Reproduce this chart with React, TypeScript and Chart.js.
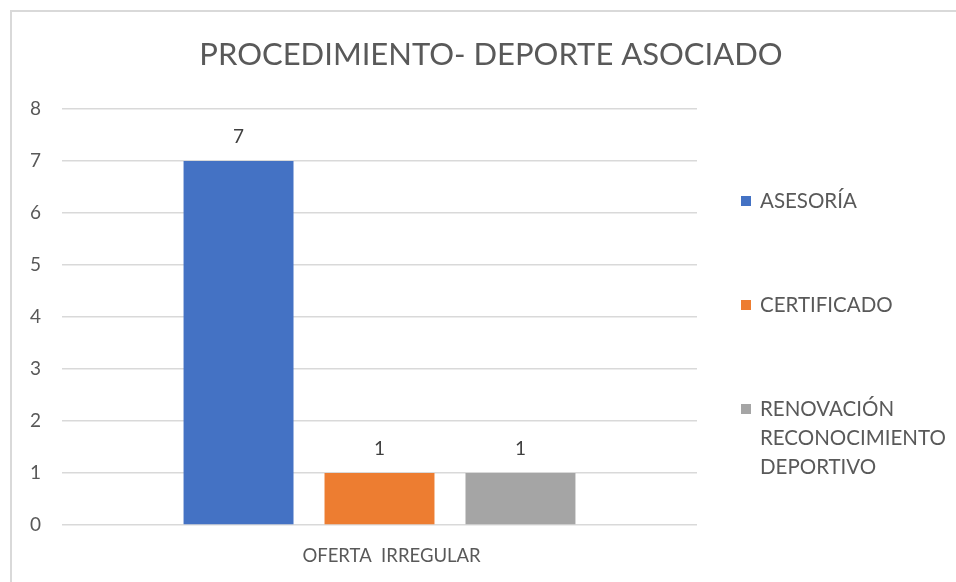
import React, { useEffect, useRef } from "react";
import { Chart, registerables } from "chart.js";

Chart.register(...registerables);

const chartTitle = "PROCEDIMIENTO- DEPORTE ASOCIADO";
const categories = ["OFERTA  IRREGULAR"];
const seriesNames = ["ASESORÍA", "CERTIFICADO", "RENOVACIÓN RECONOCIMIENTO DEPORTIVO"];
const legendLines = [["ASESORÍA"], ["CERTIFICADO"], ["RENOVACIÓN", "RECONOCIMIENTO", "DEPORTIVO"]];
const asesoria = [7];
const certificado = [1];
const renovacion = [1];
const seriesColors = ["#4472C4", "#ED7D31", "#A5A5A5"];
const yTicks = [0, 1, 2, 3, 4, 5, 6, 7, 8];

const FONT = "Lato, 'Open Sans', sans-serif";
const TEXT = "#595959";

const overlayPlugin = {
  id: "overlay",
  afterDatasetsDraw(chart: any) {
    const ctx = chart.ctx;
    ctx.save();
    // data labels
    ctx.fillStyle = "#404040";
    ctx.font = `19px ${FONT}`;
    ctx.textAlign = "center";
    ctx.textBaseline = "bottom";
    chart.data.datasets.forEach((ds: any, i: number) => {
      const meta = chart.getDatasetMeta(i);
      meta.data.forEach((bar: any, j: number) => {
        ctx.fillText(String(ds.data[j]), bar.x, bar.y - 15);
      });
    });
    // title
    ctx.fillStyle = TEXT;
    ctx.font = `31px ${FONT}`;
    ctx.textBaseline = "middle";
    ctx.fillText(chartTitle, 491, 55);
    // legend
    ctx.font = `20.5px ${FONT}`;
    ctx.textAlign = "left";
    ctx.textBaseline = "middle";
    const startY = 201;
    const gap = 104;
    const lineH = 29;
    legendLines.forEach((lines, i) => {
      const y0 = startY + i * gap;
      ctx.fillStyle = seriesColors[i];
      ctx.fillRect(741, y0 - 5, 10, 10);
      ctx.fillStyle = TEXT;
      lines.forEach((ln, k) => ctx.fillText(ln, 760, y0 + k * lineH));
    });
    ctx.restore();
  },
};

export default function App() {
  const ref = useRef<HTMLCanvasElement | null>(null);
  useEffect(() => {
    if (!ref.current) return;
    const values = [asesoria, certificado, renovacion];
    const chart = new Chart(ref.current, {
      type: "bar",
      data: {
        labels: categories,
        datasets: seriesNames.map((name, i) => ({
          label: name,
          data: values[i],
          backgroundColor: seriesColors[i],
          categoryPercentage: 0.666,
          barPercentage: 0.78,
        })),
      },
      options: {
        animation: false,
        responsive: false,
        layout: { padding: { left: 0, right: 259, top: 109, bottom: 12 } },
        plugins: {
          legend: { display: false },
          title: { display: false },
          tooltip: { enabled: false },
        },
        scales: {
          x: {
            grid: { display: false, drawTicks: false },
            border: { display: false },
            ticks: { color: TEXT, font: { family: FONT, size: 18.5 }, padding: 20, labelOffset: 12 },
            afterFit: (s: any) => {
              s.height = 45;
            },
          },
          y: {
            min: 0,
            max: 8,
            afterBuildTicks: (s: any) => {
              s.ticks = yTicks.map((v) => ({ value: v }));
            },
            grid: { color: "#D9D9D9", lineWidth: 1.5, drawTicks: false },
            border: { display: false },
            ticks: { color: TEXT, font: { family: FONT, size: 19 }, padding: 21 },
            afterFit: (s: any) => {
              s.width = 62;
            },
          },
        },
      },
      plugins: [overlayPlugin],
    });
    return () => chart.destroy();
  }, []);

  return (
    <div style={{ position: "fixed", left: 0, top: 0, width: 956, height: 582, background: "#fff", overflow: "hidden" }}>
      <div
        style={{
          position: "absolute",
          left: 10,
          top: 10,
          width: 1000,
          height: 1000,
          borderTop: "2px solid #D9D9D9",
          borderLeft: "2px solid #D9D9D9",
        }}
      />
      <canvas ref={ref} width={956} height={582} style={{ position: "absolute", left: 0, top: 0, width: 956, height: 582 }} />
    </div>
  );
}
